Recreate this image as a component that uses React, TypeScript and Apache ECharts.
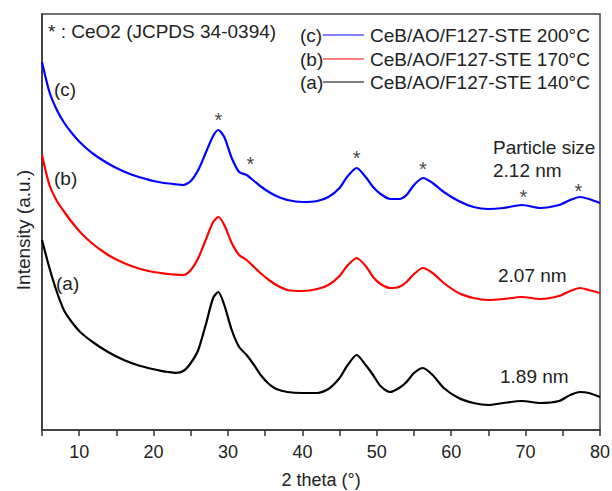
import React, { useEffect, useRef } from "react";
import * as echarts from "echarts";

// 2θ positions (degrees) at which the curves were read
const twoTheta = [
  5, 6, 7, 8, 9, 10, 11, 12, 13, 14, 15, 16, 17, 18, 19, 20, 21, 22, 23, 24,
  25, 26, 27, 28, 28.7, 29.5, 30.5, 31.5, 32.5, 33.5,
  34.5, 35.5, 36.5, 38, 40, 42, 43.5, 45, 46, 47.3,
  48.5, 49.5, 50.5, 51.8, 53, 54, 55, 56.2, 57.5, 59,
  61, 63, 65, 67, 69.5, 72, 74.5, 76, 77.3, 78.5, 80,
];

// (c) CeB/AO/F127-STE 200°C (offset intensity, a.u.)
const intensityC = [
  368, 338, 320, 307, 297, 288.5, 281.5, 275.5, 270.5, 266, 262, 258.5, 255.5, 253, 251, 249, 247.5, 246.5, 245.7, 245,
  249, 260, 277, 294, 300, 293, 272, 258, 255, 249,
  243, 238, 234, 230, 228, 229, 233, 242, 253, 262,
  253, 243, 236, 231, 231, 235, 245, 252, 247, 238,
  229, 223, 221, 222, 225, 222, 225, 230, 233, 231, 227,
];

// (b) CeB/AO/F127-STE 170°C
const intensityB = [
  275, 245, 229, 218, 208, 199, 191.5, 185, 179.5, 174.5, 170.5, 167, 164, 161.5, 159.5, 158, 157, 156, 155.3, 155,
  160, 172, 190, 208, 213, 205, 187, 175, 170, 163,
  156, 150, 145, 140, 139, 141, 145, 154, 164, 172,
  164, 153, 146, 142, 143, 148, 156, 162, 157, 147,
  137, 132, 130, 131, 133, 131, 134, 139, 142, 140, 137,
];

// (a) CeB/AO/F127-STE 140°C
const intensityA = [
  190, 162, 138, 119, 108, 99, 92.5, 87, 82, 77.5, 73.5, 70, 67, 64.5, 62.5, 60.7, 59.2, 58, 57.2, 59,
  67, 80, 105, 132, 138, 125, 100, 83, 75, 65,
  54, 46, 41, 38, 37, 37, 41, 52, 64, 75,
  65, 55, 44, 38, 42, 48, 57, 62, 55, 42,
  32, 27, 25, 27, 29, 27, 29, 35, 38, 37, 33,
];

// CeO2 reflection markers (*)
const starTheta = [28.7, 33, 47.3, 56.2, 69.7, 77.1];
const starIntensity = [314, 270, 276, 265, 237, 243];

const seriesNames = [
  "CeB/AO/F127-STE 200°C",
  "CeB/AO/F127-STE 170°C",
  "CeB/AO/F127-STE 140°C",
];
const seriesTags = ["(c)", "(b)", "(a)"];
const seriesColors = ["#0000ff", "#ff0000", "#000000"];
const particleSizes = ["2.12 nm", "2.07 nm", "1.89 nm"];

const FONT = '"Liberation Sans", Arial, sans-serif';
const TXT = "#222222";

export default function App() {
  const ref = useRef<HTMLDivElement>(null);

  useEffect(() => {
    if (!ref.current) return;
    const chart = echarts.init(ref.current, null, { renderer: "svg" });
    const allSeries = [intensityC, intensityB, intensityA];

    const lineSeries = allSeries.map((vals, i) => ({
      type: "line",
      name: seriesNames[i],
      data: twoTheta.map((t, k) => [t, vals[k]]),
      symbol: "none",
      showSymbol: false,
      smooth: 0.25,
      lineStyle: { color: seriesColors[i], width: 2.2 },
      z: 3 - i,
    }));

    const legendRows = [35, 59, 82];
    const graphic: any[] = [
      {
        type: "text",
        left: 48,
        top: 22,
        style: { text: "* : CeO2 (JCPDS 34-0394)", fontSize: 19, fontFamily: FONT, fill: TXT },
      },
    ];
    legendRows.forEach((y, i) => {
      graphic.push({
        type: "text",
        x: 300,
        y,
        style: { text: seriesTags[i], fontSize: 19, fontFamily: FONT, fill: TXT, verticalAlign: "middle" },
      });
      graphic.push({
        type: "line",
        shape: { x1: 323, y1: y, x2: 364, y2: y },
        style: { stroke: seriesColors[i], lineWidth: 1 },
      });
      graphic.push({
        type: "text",
        x: 370,
        y,
        style: { text: seriesNames[i], fontSize: 19, fontFamily: FONT, fill: TXT, verticalAlign: "middle" },
      });
    });
    // curve tags near left side
    const tagPos = [
      [54, 89],
      [54, 178],
      [56, 283],
    ];
    tagPos.forEach((p, i) => {
      graphic.push({
        type: "text",
        x: p[0],
        y: p[1],
        style: { text: seriesTags[i], fontSize: 19, fontFamily: FONT, fill: TXT, verticalAlign: "middle" },
      });
    });
    graphic.push({
      type: "text",
      x: 493,
      y: 147,
      style: { text: "Particle size", fontSize: 19, fontFamily: FONT, fill: TXT, verticalAlign: "middle" },
    });
    const sizePos = [
      [493, 170],
      [498, 275],
      [500, 376],
    ];
    sizePos.forEach((p, i) => {
      graphic.push({
        type: "text",
        x: p[0],
        y: p[1],
        style: { text: particleSizes[i], fontSize: 19, fontFamily: FONT, fill: TXT, verticalAlign: "middle" },
      });
    });
    graphic.push({
      type: "text",
      x: 23,
      y: 230,
      rotation: Math.PI / 2,
      style: {
        text: "Intensity (a.u.)",
        fontSize: 19,
        fontFamily: FONT,
        fill: TXT,
        align: "center",
        verticalAlign: "middle",
      },
    });

    chart.setOption({
      animation: false,
      backgroundColor: "#ffffff",
      grid: {
        left: 42,
        right: 12,
        top: 14,
        bottom: 61,
        containLabel: false,
        outerBoundsMode: "none",
        show: true,
        borderColor: "#444444",
        borderWidth: 1.5,
        backgroundColor: "transparent",
      },
      xAxis: {
        type: "value",
        min: 5,
        max: 80,
        interval: 5,
        name: "2 theta (°)",
        nameLocation: "middle",
        nameGap: 41,
        nameTextStyle: { fontSize: 18, fontFamily: FONT, color: TXT },
        axisLine: { show: true, onZero: false, lineStyle: { color: "#333333", width: 1.5 } },
        axisTick: { show: true, inside: false, length: 6, lineStyle: { color: "#333333", width: 1.5 } },
        axisLabel: {
          fontSize: 18,
          fontFamily: FONT,
          color: TXT,
          margin: 13,
          showMaxLabel: true,
          showMinLabel: true,
          formatter: (v: number) => (v % 10 === 0 ? String(v) : ""),
        },
        splitLine: { show: false },
      },
      yAxis: {
        type: "value",
        min: 0,
        max: 416,
        axisLine: { show: true, lineStyle: { color: "#333333", width: 1.5 } },
        axisTick: { show: false },
        axisLabel: { show: false },
        splitLine: { show: false },
      },
      series: [
        ...lineSeries,
        {
          type: "scatter",
          name: "CeO2 reflections",
          data: starTheta.map((t, k) => [t, starIntensity[k]]),
          symbolSize: 0,
          silent: true,
          label: {
            show: true,
            position: "inside",
            formatter: "*",
            fontSize: 20,
            fontFamily: FONT,
            color: "#111111",
            offset: [0, 4],
          },
        },
      ],
      graphic,
    });
    return () => chart.dispose();
  }, []);

  return (
    <div
      ref={ref}
      style={{ position: "fixed", left: 0, top: 0, width: 612, height: 491, background: "#ffffff" }}
    />
  );
}
